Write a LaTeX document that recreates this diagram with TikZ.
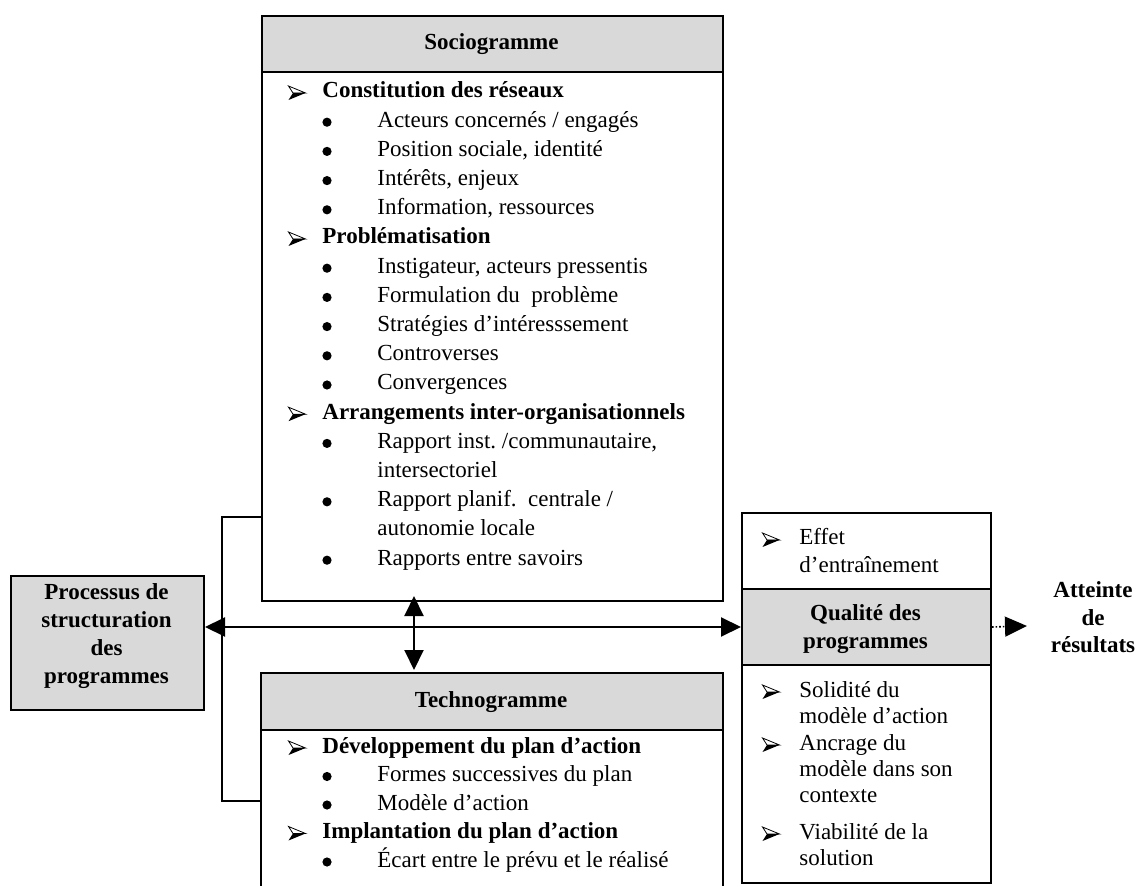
\documentclass[tikz,border=0pt]{standalone}
\usepackage{fontspec}
\setmainfont{Liberation Serif}
\usetikzlibrary{arrows.meta}

% list entries: arrowhead marker + bold heading, bullet + text, continuation line
\newcommand\headitem[3]{%
  \pic at (297,#2-5) {dart};
  \node[heading] (#1) at (322,#2) {#3};}
\newcommand\bulitem[3]{%
  \fill (327,#2-5) circle[radius=2.3pt];
  \node[plain] (#1) at (377,#2) {#3};}
\newcommand\contitem[3]{%
  \node[plain] (#1) at (377,#2) {#3};}

\begin{document}
\frenchspacing
\begin{tikzpicture}[x=0.5pt,y=-0.5pt,
  frame/.style={draw, line width=1pt, rectangle, inner sep=0pt, anchor=north west},
  shaded/.style={frame, fill=black!15},
  plain/.style={anchor=base west, inner sep=0pt, font=\fontsize{11.5}{14}\selectfont},
  heading/.style={plain, font=\fontsize{11.5}{14}\selectfont\bfseries},
  title/.style={anchor=base, inner sep=0pt, font=\fontsize{11.5}{14}\selectfont\bfseries},
  link/.style={line width=1pt},
  >={Triangle[length=10pt,width=9.5pt]},
  pics/dart/.style={code={
    \filldraw[line width=0.4pt, fill=white] (-8.5,-7) -- (8.5,0) -- (-4,0) -- cycle;
    \fill (-8.5,7) -- (8.5,0) -- (-4,0) -- cycle;}},
]
\useasboundingbox (0,0) rectangle (1139,886);

% ---------------- Sociogramme ----------------
\node[shaded, minimum width=230.5pt, minimum height=28pt] (sochead) at (261,15) {};
\node[frame, minimum width=230.5pt, minimum height=292.5pt] (socio) at (261,15) {};
\node[title] (soctitle) at (491.5,50) {Sociogramme};

\headitem{s0}{98}{Constitution des réseaux}
\bulitem{s1}{127.2}{Acteurs concernés / engagés}
\bulitem{s2}{156.4}{Position sociale, identité}
\bulitem{s3}{185.6}{Intérêts, enjeux}
\bulitem{s4}{214.8}{Information, ressources}
\headitem{s5}{244}{Problématisation}
\bulitem{s6}{273.2}{Instigateur, acteurs pressentis}
\bulitem{s7}{302.4}{Formulation du\ \ problème}
\bulitem{s8}{331.6}{Stratégies d’intéresssement}
\bulitem{s9}{360.8}{Controverses}
\bulitem{s10}{390}{Convergences}
\headitem{s11}{419.2}{Arrangements inter-organisationnels}
\bulitem{s12}{448.4}{Rapport inst. /communautaire,}
\contitem{s13}{477.6}{intersectoriel}
\bulitem{s14}{506.8}{Rapport planif.\ \ centrale /}
\contitem{s15}{536}{autonomie locale}
\bulitem{s16}{565.2}{Rapports entre savoirs}

% ---------------- Technogramme (runs past the lower edge) ----------------
\node[shaded, minimum width=231pt, minimum height=28.5pt] (techhead) at (260,672) {};
\node[frame, minimum width=231pt, minimum height=115pt] (techno) at (260,672) {};
\node[title] (techtitle) at (491,707) {Technogramme};

\headitem{t0}{753}{Développement du plan d’action}
\bulitem{t1}{781.5}{Formes successives du plan}
\bulitem{t2}{810}{Modèle d’action}
\headitem{t3}{838.5}{Implantation du plan d’action}
\bulitem{t4}{867}{Écart entre le prévu et le réalisé}

% ---------------- Processus de structuration ----------------
\node[shaded, minimum width=96.5pt, minimum height=67pt] (proc) at (10,575) {};
\node[title] (p1) at (106.5,599) {Processus de};
\node[title] (p2) at (106.5,627) {structuration};
\node[title] (p3) at (106.5,655) {des};
\node[title] (p4) at (106.5,683) {programmes};

% ---------------- Qualité des programmes ----------------
\node[shaded, minimum width=124.5pt, minimum height=38pt] (qband) at (741,588) {};
\node[frame, minimum width=124.5pt, minimum height=185pt] (qual) at (741,512) {};

\pic at (771,540) {dart};
\node[plain] (q1) at (799,545) {Effet};
\node[plain] (q2) at (799,573) {d’entraînement};
\node[title] (q3) at (865.5,620) {Qualité des};
\node[title] (q4) at (865.5,648) {programmes};
\pic at (771,692) {dart};
\node[plain] (q5) at (799,697) {Solidité du};
\node[plain] (q6) at (799,723) {modèle d’action};
\pic at (771,745) {dart};
\node[plain] (q7) at (799,750) {Ancrage du};
\node[plain] (q8) at (799,776) {modèle dans son};
\node[plain] (q9) at (799,802) {contexte};
\pic at (771,834) {dart};
\node[plain] (q10) at (799,839) {Viabilité de la};
\node[plain] (q11) at (799,865) {solution};

% ---------------- Atteinte de résultats ----------------
\node[title] (a1) at (1093,597) {Atteinte};
\node[title] (a2) at (1093,625) {de};
\node[title] (a3) at (1093,652) {résultats};

% ---------------- Connectors ----------------
\coordinate (brtop) at (222,517);
\coordinate (brbot) at (222,801);
\draw[link] (brtop -| socio.west) -- (brtop) -- (brbot) -- (brbot -| techno.west);

\draw[link,<->] (proc.east |- qband.west) -- (qband.west);

\coordinate (vx) at (414,0);
\draw[link,<->, shorten <=-3pt, shorten >=1pt] (vx |- socio.south) -- (vx |- techno.north);

\coordinate (goal) at (1027,626);
\draw[line width=0.8pt, densely dotted, -{Triangle[length=11pt,width=10pt]}] (qband.east) -- (goal);
\end{tikzpicture}
\end{document}
